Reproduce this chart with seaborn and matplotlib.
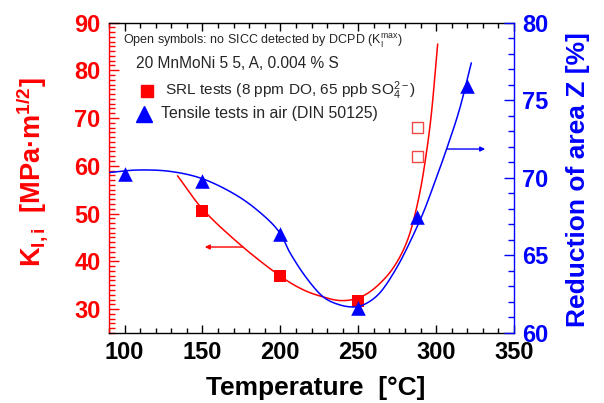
import numpy as np
import pandas as pd
import matplotlib
matplotlib.use("Agg")
import matplotlib.pyplot as plt
from matplotlib.ticker import MultipleLocator
import seaborn as sns

# ---------------- data ----------------
srl_T = [150, 200, 250]
srl_K = [50.6, 36.9, 31.8]
open_T = [288, 288]
open_K = [62.0, 68.0]
ten_T = [100, 150, 200, 250, 288, 320]
ten_Z = [70.25, 69.8, 66.4, 61.6, 67.5, 75.9]

# fitted curves (knots)
red_curve_T = [134, 151, 176, 200, 215, 228, 238, 248, 256, 264, 272, 279, 284, 289, 293, 297, 301]
red_curve_K = [57.9, 50.6, 43.0, 36.9, 34.0, 32.5, 31.8, 32.1, 33.3, 35.4, 38.4, 42.4, 46.8, 53.5, 61.0, 71.0, 85.5]
blue_curve_T = [90.5, 109, 130, 151, 173, 190, 200, 206, 216, 227, 237.5, 248, 256, 264, 272, 280, 290.7, 298, 306.7, 315, 322.6]
blue_curve_Z = [70.34, 70.5, 70.4, 69.9, 68.8, 67.5, 66.4, 65.2, 63.65, 62.37, 61.83, 61.68, 61.95, 62.6, 63.75, 65.2, 67.5, 69.4, 71.84, 74.4, 77.4]

RED = "#ff0000"
BLUE = "#0000ff"


def smooth(xs, ys, n=12):
    """Catmull-Rom rendering of a curve through the given knots (drawing only)."""
    P = np.column_stack([xs, ys]).astype(float)
    P = np.vstack([2 * P[0] - P[1], P, 2 * P[-1] - P[-2]])
    out = []
    t = np.linspace(0, 1, n, endpoint=False)[:, None]
    for i in range(1, len(P) - 2):
        p0, p1, p2, p3 = P[i - 1], P[i], P[i + 1], P[i + 2]
        seg = 0.5 * ((2 * p1) + (-p0 + p2) * t + (2 * p0 - 5 * p1 + 4 * p2 - p3) * t ** 2
                     + (-p0 + 3 * p1 - 3 * p2 + p3) * t ** 3)
        out.append(seg)
    out.append(P[-2][None, :])
    out = np.vstack(out)
    return out[:, 0], out[:, 1]


sns.set_style("ticks")
plt.rcParams["font.family"] = ["Liberation Sans", "DejaVu Sans"]
plt.rcParams["mathtext.fontset"] = "custom"
plt.rcParams["mathtext.rm"] = "Liberation Sans"
plt.rcParams["mathtext.it"] = "Liberation Sans:italic"
plt.rcParams["mathtext.bf"] = "Liberation Sans:bold"

W, H = 604, 403
fig = plt.figure(figsize=(W / 100, H / 100), dpi=100)
L, R, T, B = 109, 514, 22.5, 333
ax = fig.add_axes([L / W, 1 - B / H, (R - L) / W, (B - T) / H])
ax2 = ax.twinx()

# curves
rx, ry = smooth(red_curve_T, red_curve_K)
bx, by = smooth(blue_curve_T, blue_curve_Z)
sns.lineplot(x=rx, y=ry, ax=ax, color=RED, lw=1.1, sort=False, estimator=None)
sns.lineplot(x=bx, y=by, ax=ax2, color=BLUE, lw=1.1, sort=False, estimator=None)

# markers
sns.scatterplot(x=srl_T, y=srl_K, ax=ax, marker="s", s=78, color=RED, linewidth=0, zorder=5)
sns.scatterplot(x=open_T, y=open_K, ax=ax, marker="s", s=60, facecolor="none", edgecolor="#f04848", linewidth=1.0, zorder=5)
sns.scatterplot(x=ten_T, y=ten_Z, ax=ax2, marker="^", s=110, color=BLUE, linewidth=0, zorder=5)

# arrows
ax.annotate("", xy=(151.5, 43.0), xytext=(176, 43.0),
            arrowprops=dict(arrowstyle="-|>", color=RED, lw=1.0, mutation_scale=7, shrinkA=0, shrinkB=0))
ax2.annotate("", xy=(331.5, 71.85), xytext=(306.7, 71.85),
             arrowprops=dict(arrowstyle="-|>", color=BLUE, lw=1.0, mutation_scale=7, shrinkA=0, shrinkB=0))

# limits & ticks
ax.set_xlim(90, 350)
ax.set_ylim(25, 90)
ax2.set_ylim(60, 80)
ax.xaxis.set_major_locator(MultipleLocator(50))
ax.xaxis.set_minor_locator(MultipleLocator(10))
ax.yaxis.set_major_locator(MultipleLocator(10))
ax.yaxis.set_minor_locator(MultipleLocator(1))
ax2.yaxis.set_major_locator(MultipleLocator(5))
ax2.yaxis.set_minor_locator(MultipleLocator(1))

ax.set_yticks([30, 40, 50, 60, 70, 80, 90])

ax.tick_params(axis="x", which="both", direction="in", top=True, bottom=True, colors="black", width=1)
ax.tick_params(axis="x", which="major", length=6, labelsize=17, pad=6)
ax.tick_params(axis="x", which="minor", length=3.5)
ax.tick_params(axis="y", which="both", direction="in", colors=RED, width=1)
ax.tick_params(axis="y", which="major", length=7, labelsize=17, pad=6)
ax.tick_params(axis="y", which="minor", length=4)
ax2.tick_params(axis="y", which="both", direction="in", colors=BLUE, width=1)
ax2.tick_params(axis="y", which="major", length=7, labelsize=17, pad=6)
ax2.tick_params(axis="y", which="minor", length=4)

for lab in ax.get_xticklabels() + ax.get_yticklabels() + ax2.get_yticklabels():
    lab.set_fontweight("bold")

ax.spines["left"].set_color(RED)
ax.spines["right"].set_visible(False)
ax.spines["top"].set_color("black")
ax.spines["bottom"].set_color("black")
ax2.spines["right"].set_color(BLUE)
ax2.spines["left"].set_visible(False)
ax2.spines["top"].set_visible(False)
ax2.spines["bottom"].set_visible(False)
for sp in list(ax.spines.values()) + list(ax2.spines.values()):
    sp.set_linewidth(1.0)

ax.set_xlabel("Temperature  [°C]", fontsize=19, fontweight="bold", color="black", va="center")
ax.xaxis.set_label_coords((316 - L) / (R - L), (B - 388) / (B - T))
ax.set_ylabel(r"K$_{\mathbf{I,i}}$  [MPa·m$^{\mathbf{1/2}}$]", fontsize=19.5, fontweight="bold", color=RED, va="center")
ax.yaxis.set_label_coords((32 - L) / (R - L), (B - 172) / (B - T))
ax2.set_ylabel("Reduction of area Z [%]", fontsize=19, fontweight="bold", color=BLUE, rotation=90, va="center")
ax2.yaxis.set_label_coords((578 - L) / (R - L), (B - 180) / (B - T))


def fx(px):
    return px / W


def fy(py):
    return 1 - py / H


fig.text(fx(123), fy(41), r"Open symbols: no SICC detected by DCPD (K$_\mathregular{I}^\mathregular{max}$)",
         fontsize=9, va="center", ha="left")
fig.text(fx(136), fy(64), "20 MnMoNi 5 5, A, 0.004 % S", fontsize=11.2, va="center", ha="left")
fig.text(fx(165), fy(91), r"SRL tests (8 ppm DO, 65 ppb SO$_4^{\mathregular{2-}}$)", fontsize=11.1, va="center", ha="left")
fig.text(fx(161), fy(113.5), "Tensile tests in air (DIN 50125)", fontsize=11.4, va="center", ha="left")

# legend markers (figure coordinates)
ax.plot([fx(147)], [fy(91)], marker="s", ms=9, color=RED, ls="none", transform=fig.transFigure, clip_on=False)
ax.plot([fx(143.5)], [fy(113.5)], marker="^", ms=12, color=BLUE, ls="none", transform=fig.transFigure, clip_on=False)

fig.savefig("out.png", dpi=100)
